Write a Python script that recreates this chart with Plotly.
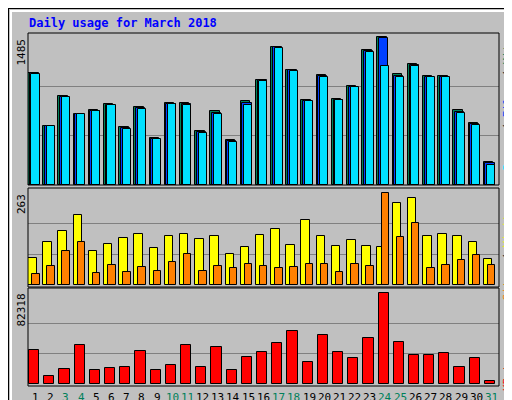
import plotly.graph_objects as go

days = list(range(1, 32))
day_labels = [str(d) for d in days]
weekend = [3, 4, 10, 11, 17, 18, 24, 25, 31]
hits = [1126, 591, 894, 709, 753, 810, 581, 783, 467, 823, 823, 541, 743, 450, 843, 1058, 1388, 1156, 853, 1105, 863, 995, 1357, 1485, 1116, 1216, 1095, 1095, 753, 622, 228]
files = [1119, 591, 887, 709, 746, 803, 571, 773, 460, 816, 813, 528, 723, 437, 823, 1051, 1381, 1149, 847, 1092, 857, 988, 1344, 1478, 1092, 1203, 1085, 1085, 733, 608, 218]
pages = [1112, 591, 880, 709, 739, 800, 561, 763, 457, 810, 803, 517, 709, 430, 800, 1041, 1374, 1143, 840, 1082, 850, 981, 1334, 1193, 1082, 1193, 1082, 1082, 719, 598, 205]
sites = [78, 121, 155, 200, 98, 118, 135, 146, 106, 140, 146, 132, 140, 89, 109, 143, 158, 115, 186, 140, 112, 129, 112, 109, 234, 249, 140, 146, 140, 123, 75]
visits = [32, 55, 98, 123, 35, 58, 38, 52, 41, 66, 89, 41, 55, 49, 61, 55, 47, 52, 61, 61, 38, 61, 55, 263, 138, 177, 49, 58, 72, 86, 58]
kbytes = [30943, 7510, 13818, 35447, 12917, 14720, 15621, 30040, 12917, 17423, 35447, 15621, 33645, 12917, 24633, 29139, 37250, 48064, 20127, 44459, 29139, 23732, 41756, 82318, 38151, 26435, 26435, 28238, 15621, 23732, 3004]

W, H = 512, 400
BG = "#C0C0C0"
GREEN = "#00805A"
BLUE = "#0040FF"
CYAN = "#00E0FF"
YELLOW = "#FFFF00"
ORANGE = "#FF8000"
RED = "#FF0000"
MONO = "DejaVu Sans Mono"

def py(p):
    return 1 - p / H

def px(p):
    return p / W

fig = go.Figure()
line = dict(color="black", width=1)
def bar(y, color, offset, width, xa, ya):
    fig.add_trace(go.Bar(x=days, y=y, offset=offset, width=width, marker=dict(color=color, line=line),
                         xaxis=xa, yaxis=ya, showlegend=False, hoverinfo="skip"))

bar(hits, GREEN, -0.5, 0.62, "x", "y")
bar(files, BLUE, -0.39, 0.6, "x", "y")
bar(pages, CYAN, -0.27, 0.53, "x", "y")
bar(sites, YELLOW, -0.5, 0.56, "x2", "y2")
bar(visits, ORANGE, -0.23, 0.49, "x2", "y2")
bar(kbytes, RED, -0.43, 0.67, "x3", "y3")

xd = [px(20), px(491)]
xcommon = dict(range=[0.5, 31.5], domain=xd, showgrid=False, zeroline=False, fixedrange=True,
               showticklabels=False, ticks="", automargin=False)
top_max, mid_max, bot_max = max(hits), max(visits + sites), max(kbytes)
def ycommon(dom, mx, rng):
    return dict(domain=dom, range=[0, rng], tickvals=[mx / 3, 2 * mx / 3], showticklabels=False,
                gridcolor="#808080", gridwidth=1, zeroline=False, ticks="", fixedrange=True, automargin=False)

fig.update_layout(
    width=W, height=H, margin=dict(l=0, r=0, t=0, b=0, autoexpand=False),
    paper_bgcolor=BG, plot_bgcolor=BG, barmode="overlay", bargap=0,
    xaxis=dict(**xcommon, anchor="y"),
    xaxis2=dict(**xcommon, anchor="y2"),
    xaxis3=dict(**xcommon, anchor="y3"),
    yaxis=ycommon([py(177), py(25)], top_max, top_max * 152 / 148),
    yaxis2=ycommon([py(277), py(180)], mid_max, mid_max * 97 / 92.4),
    yaxis3=ycommon([py(376), py(280)], bot_max, bot_max * 96 / 91.3),
)

shapes = [
    dict(type="rect", xref="paper", yref="paper", x0=0, x1=1, y0=0, y1=1, line=dict(color="black", width=2)),
    dict(type="line", xref="paper", yref="paper", x0=px(2), x1=px(504), y0=py(3), y1=py(3), line=dict(color="white", width=2)),
    dict(type="line", xref="paper", yref="paper", x0=px(3), x1=px(3), y0=py(3), y1=py(394), line=dict(color="white", width=2)),
    dict(type="rect", xref="paper", yref="paper", x0=px(505), x1=px(510), y0=py(398), y1=py(3), line=dict(width=0), fillcolor="#808080"),
    dict(type="rect", xref="paper", yref="paper", x0=px(3), x1=px(510), y0=py(398), y1=py(394), line=dict(width=0), fillcolor="#808080"),
]
for a, b in [(25, 177), (180, 279), (280, 378)]:
    shapes.append(dict(type="rect", xref="paper", yref="paper", x0=xd[0], x1=xd[1], y0=py(b), y1=py(a),
                       line=dict(color="black", width=1)))
fig.update_layout(shapes=shapes)

ann = [
    dict(text="<b>Daily usage for March 2018</b>", x=px(19), y=py(15), xanchor="left", yanchor="middle",
         font=dict(family=MONO, size=12, color="#0000FF")),
    dict(text="1485", x=px(13), y=py(29), xanchor="center", yanchor="top", textangle=-90,
         font=dict(family=MONO, size=11, color="black")),
    dict(text="263", x=px(13), y=py(184), xanchor="center", yanchor="top", textangle=-90,
         font=dict(family=MONO, size=11, color="black")),
    dict(text="82318", x=px(13), y=py(284), xanchor="center", yanchor="top", textangle=-90,
         font=dict(family=MONO, size=11, color="black")),
    dict(text=f"<span style='color:{CYAN}'>Pages</span> / <span style='color:{BLUE}'>Files</span> / <span style='color:{GREEN}'>Hits</span>",
         x=px(499), y=py(28), xanchor="center", yanchor="top", textangle=-90,
         font=dict(family=MONO, size=11, color="black")),
    dict(text=f"<span style='color:{ORANGE}'>Sites</span> / <span style='color:{YELLOW}'>Visits</span>",
         x=px(499), y=py(198), xanchor="center", yanchor="top", textangle=-90,
         font=dict(family=MONO, size=11, color="black")),
    dict(text="KBytes", x=px(499), y=py(341), xanchor="center", yanchor="top", textangle=-90,
         font=dict(family=MONO, size=11, color=RED)),
]
for a in ann:
    a.update(xref="paper", yref="paper", showarrow=False)
for d, lab in zip(days, day_labels):
    ann.append(dict(text=lab, x=d, xref="x3", y=py(389), yref="paper", showarrow=False,
                    xanchor="center", yanchor="middle",
                    font=dict(family=MONO, size=11, color=GREEN if d in weekend else "black")))
fig.update_layout(annotations=ann)

fig.write_html("out.html")
